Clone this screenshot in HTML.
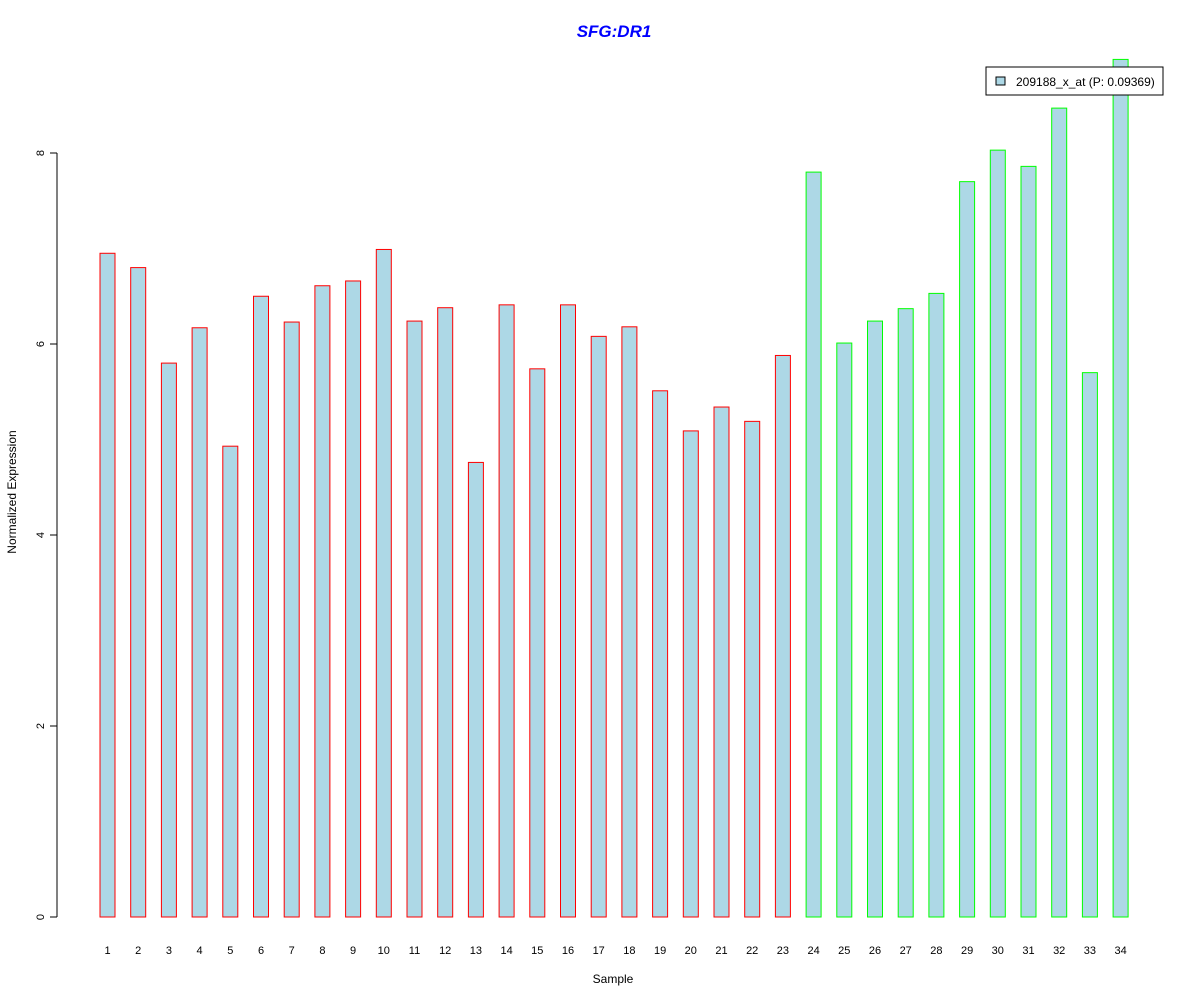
<!DOCTYPE html>
<html><head><meta charset="utf-8"><style>
body{margin:0;background:#fff;}
svg{display:block;font-family:"Liberation Sans",Arial,sans-serif;}
</style></head><body>
<svg id="chart" width="1200" height="1000" xmlns="http://www.w3.org/2000/svg">
<text x="614" y="37" text-anchor="middle" font-size="17" font-weight="bold" font-style="italic" fill="#0000ff">SFG:DR1</text>
<text transform="translate(16,492) rotate(-90)" text-anchor="middle" font-size="12" fill="#000">Normalized Expression</text>
<text x="613" y="983" text-anchor="middle" font-size="12" fill="#000">Sample</text>
<g id="yaxis"></g>
<g id="bars"></g>
<g id="xlabels"></g>
<g>
<rect x="986" y="67" width="177" height="28" fill="#fff" stroke="#000"/>
<rect x="996" y="77" width="9" height="8" fill="#add8e6" stroke="#000"/>
<text x="1016" y="86" font-size="12">209188_x_at (P: 0.09369)</text>
</g>
</svg>
<script>
const categories=["1","2","3","4","5","6","7","8","9","10","11","12","13","14","15","16","17","18","19","20","21","22","23","24","25","26","27","28","29","30","31","32","33","34"];
const values=[6.95,6.80,5.80,6.17,4.93,6.50,6.23,6.61,6.66,6.99,6.24,6.38,4.76,6.41,5.74,6.41,6.08,6.18,5.51,5.09,5.34,5.19,5.88,7.80,6.01,6.24,6.37,6.53,7.70,8.03,7.86,8.47,5.70,8.98];
const groups=["a","a","a","a","a","a","a","a","a","a","a","a","a","a","a","a","a","a","a","a","a","a","a","b","b","b","b","b","b","b","b","b","b","b"];
const yTicks=[0,2,4,6,8];
const NS="http://www.w3.org/2000/svg";
const y=v=>917-v*95.5;
const x=i=>107.5+i*30.7;
const bars=document.getElementById('bars'),xl=document.getElementById('xlabels'),ya=document.getElementById('yaxis');
function mk(t,a){const e=document.createElementNS(NS,t);for(const k in a)e.setAttribute(k,a[k]);return e;}
const ax=mk('line',{x1:57,x2:57,y1:y(yTicks[yTicks.length-1]),y2:y(yTicks[0]),stroke:'#000'});


ya.appendChild(ax);
yTicks.forEach(t=>{
  const l=mk('line',{x1:50,x2:57,y1:y(t),y2:y(t),stroke:'#000'});
  
  
  ya.appendChild(l);
  const tx=mk('text',{transform:`translate(44,${y(t)}) rotate(-90)`,'text-anchor':'middle','font-size':11});
  
  
  tx.textContent=t;ya.appendChild(tx);
});
values.forEach((v,i)=>{
  const r=mk('rect',{x:x(i)-7.5,y:y(v),width:15,height:y(0)-y(v),fill:'#add8e6',stroke:groups[i]==='a'?'#ff0000':'#00ff00'});
  
  
  bars.appendChild(r);
  const t=mk('text',{x:x(i),y:954,'text-anchor':'middle','font-size':11});
  
  
  t.textContent=categories[i];xl.appendChild(t);
});
</script>
</body></html>
